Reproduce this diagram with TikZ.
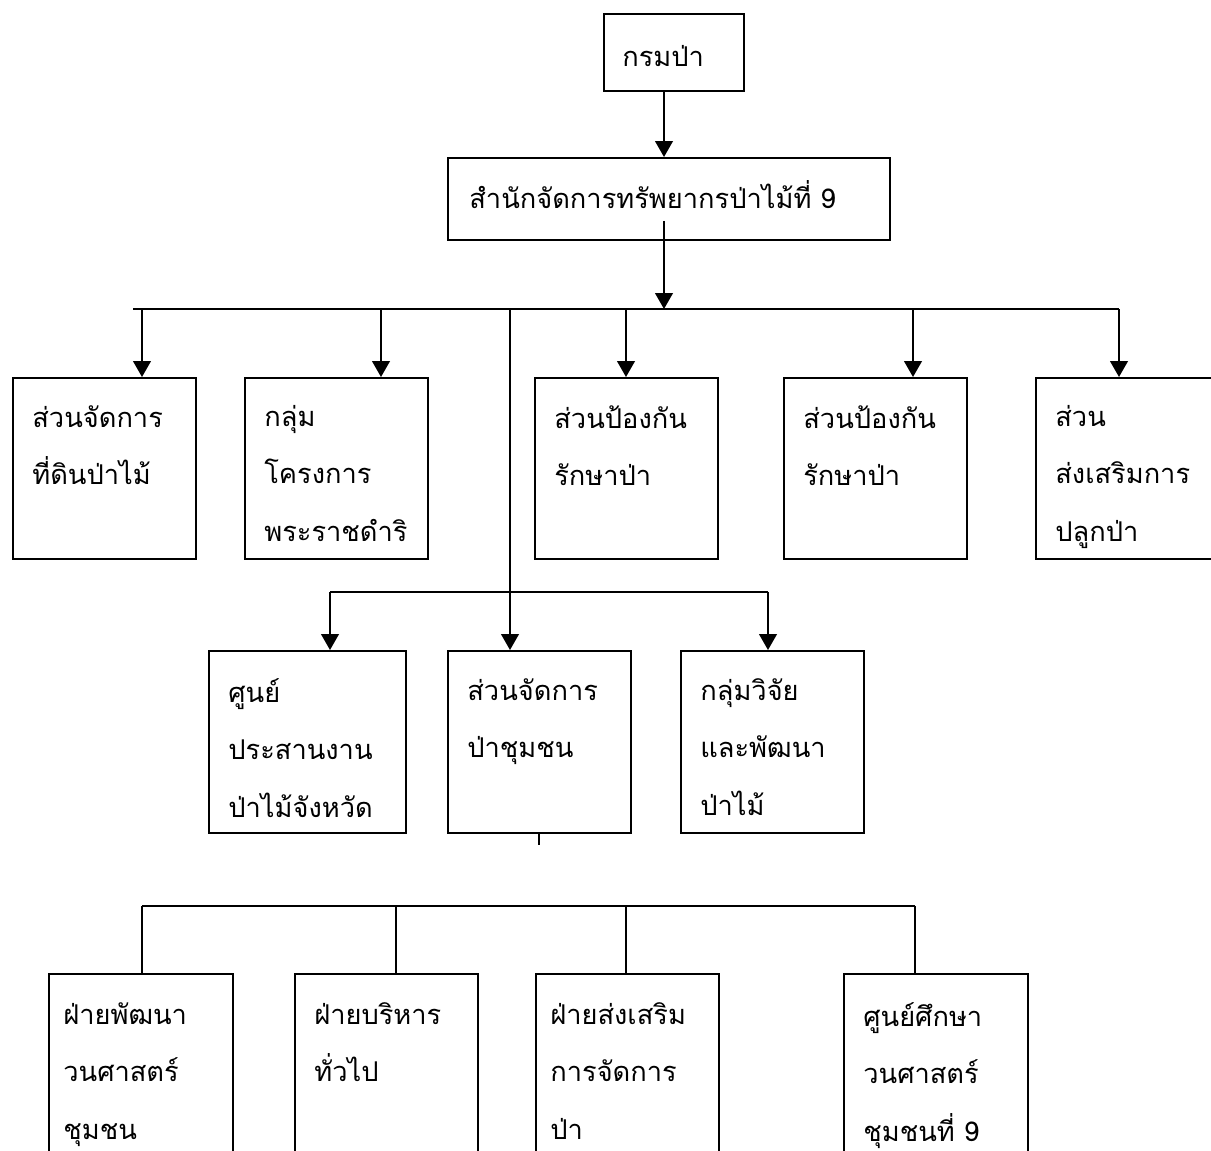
\documentclass[tikz,border=0pt]{standalone}
\usepackage{fontspec}
\newfontfamily\thaifont[Script=Thai]{Loma}
\usetikzlibrary{arrows.meta}

\begin{document}
\begin{tikzpicture}[x=0.02cm,y=-0.02cm]
\tikzset{>={Triangle[width=10pt,length=9pt]}}
\tikzstyle{unit}=[draw, line width=1.1pt, anchor=north west, inner sep=0pt, minimum width=3.66cm, minimum height=3.62cm]
\tikzstyle{txt}=[anchor=north west, inner sep=0pt, align=left, font=\thaifont\fontsize{15.5}{32.7}\selectfont, execute at begin node=\strut]
\tikzstyle{link}=[line width=1.1pt]

\useasboundingbox (0,0) rectangle (1211,1151);
\clip (0,0) rectangle (1211,1151);

% top levels
\node[unit, minimum width=2.8cm, minimum height=1.54cm] (dept) at (603,13) {};
\node[txt] (dept-t) at ([xshift=0.38cm,yshift=-0.25cm]dept.north west) {กรมป่า};
\node[unit, minimum width=8.84cm, minimum height=1.64cm] (office) at (447,157) {};
\node[txt] (office-t) at ([xshift=0.44cm,yshift=-0.21cm]office.north west) {สำนักจัดการทรัพยากรป่าไม้ที่ 9};

% first row
\node[unit] (land) at (12,377) {};
\node[txt] (land-t) at ([xshift=0.4cm,yshift=-0.56cm]land.north west) {ส่วนจัดการ\\ที่ดินป่าไม้};
\node[unit] (royal) at (244,377) {};
\node[txt] (royal-t) at ([xshift=0.4cm,yshift=-0.56cm]royal.north west) {กลุ่ม\\โครงการ\\พระราชดำริ};
\node[unit] (protA) at (534,377) {};
\node[txt] (protA-t) at ([xshift=0.4cm,yshift=-0.56cm]protA.north west) {ส่วนป้องกัน\\รักษาป่า};
\node[unit] (protB) at (783,377) {};
\node[txt] (protB-t) at ([xshift=0.4cm,yshift=-0.56cm]protB.north west) {ส่วนป้องกัน\\รักษาป่า};
\node[unit] (plant) at (1035,377) {};
\node[txt] (plant-t) at ([xshift=0.4cm,yshift=-0.56cm]plant.north west) {ส่วน\\ส่งเสริมการ\\ปลูกป่า};

% second row
\node[unit, minimum width=3.94cm, minimum height=3.64cm] (prov) at (208,650) {};
\node[txt] (prov-t) at ([xshift=0.4cm,yshift=-0.56cm]prov.north west) {ศูนย์\\ประสานงาน\\ป่าไม้จังหวัด};
\node[unit, minimum height=3.64cm] (comm) at (447,650) {};
\node[txt] (comm-t) at ([xshift=0.4cm,yshift=-0.56cm]comm.north west) {ส่วนจัดการ\\ป่าชุมชน};
\node[unit, minimum height=3.64cm] (research) at (680,650) {};
\node[txt] (research-t) at ([xshift=0.4cm,yshift=-0.56cm]research.north west) {กลุ่มวิจัย\\และพัฒนา\\ป่าไม้};

% third row
\node[unit, minimum width=3.68cm, minimum height=4cm] (dev) at (48,973) {};
\node[txt] (dev-t) at ([xshift=0.3cm,yshift=-0.58cm]dev.north west) {ฝ่ายพัฒนา\\วนศาสตร์\\ชุมชน};
\node[unit, minimum height=4cm] (admin) at (294,973) {};
\node[txt] (admin-t) at ([xshift=0.4cm,yshift=-0.58cm]admin.north west) {ฝ่ายบริหาร\\ทั่วไป};
\node[unit, minimum height=4cm] (promo) at (535,973) {};
\node[txt] (promo-t) at ([xshift=0.3cm,yshift=-0.58cm]promo.north west) {ฝ่ายส่งเสริม\\การจัดการ\\ป่า};
\node[unit, minimum width=3.68cm, minimum height=4cm] (study) at (843,973) {};
\node[txt] (study-t) at ([xshift=0.4cm,yshift=-0.58cm]study.north west) {ศูนย์ศึกษา\\วนศาสตร์\\ชุมชนที่ 9};

% connectors
\coordinate (spine) at (664,0);
\coordinate (office-out) at (664,221);
\coordinate (bus1w) at (133,309);
\coordinate (bus1e) at (1119,309);
\coordinate (bus2w) at (330,592);
\coordinate (bus2e) at (768,592);
\coordinate (bus3w) at (142,906);
\coordinate (bus3e) at (915,906);

\draw[link,->] (spine |- dept.south) -- (spine |- office.north);
\draw[link,->] (office-out) -- (spine |- bus1w);
\draw[link] (bus1w) -- (bus1e);
\foreach \x/\b in {142/land, 381/royal, 626/protA, 913/protB, 1119/plant}
  \draw[link,->] (\x,309) -- (\x,309 |- \b.north);
\draw[link,->] (510,309) -- (510,309 |- comm.north);
\draw[link] (bus2w) -- (bus2e);
\draw[link,->] (bus2w) -- (bus2w |- prov.north);
\draw[link,->] (bus2e) -- (bus2e |- research.north);
\draw[link] (comm.south) -- ++(0,11);
\draw[link] (bus3w) -- (bus3e);
\foreach \x/\b in {142/dev, 396/admin, 626/promo, 915/study}
  \draw[link] (\x,906) -- (\x,906 |- \b.north);
\end{tikzpicture}
\end{document}
